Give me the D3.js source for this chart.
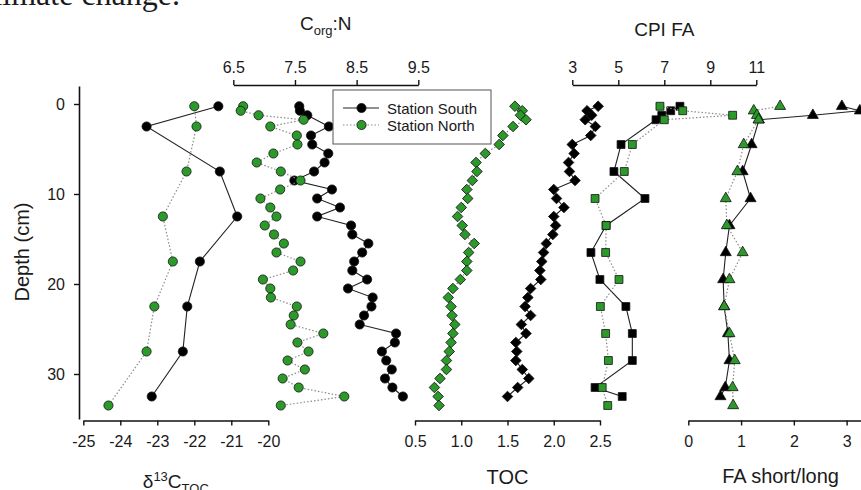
<!DOCTYPE html>
<html>
<head>
  <!-- Import D3.js -->
  <script type="text/javascript" src="https://d3js.org/d3.v7.min.js"></script>
</head>
<body>
<div id="my_dataviz"></div>
<style type="text/css">
  html, body {
    margin: 0px;
    background: #fff;
  }
  svg text {
    font-family: "Liberation Sans", Arial, sans-serif;
    fill: #1a1a1a;
  }
</style>

<script>
"use strict";

// delta 13C TOC
const D13C_DEPTH_S = [0.25, 2.5, 7.5, 12.5, 17.5, 22.5, 27.5, 32.5];
const D13C_S = [-21.35, -23.29, -21.31, -20.84, -21.85, -22.19, -22.31, -23.15];
const D13C_DEPTH_N = [0.25, 2.5, 7.5, 12.5, 17.5, 22.5, 27.5, 33.5];
const D13C_N = [-22.0, -21.94, -22.21, -22.85, -22.58, -23.08, -23.29, -24.32];

// Corg:N
const CN_DEPTH_S = [0.25, 0.75, 1.25, 2.5, 3.5, 4.5, 5.5, 6.5, 7.5, 8.5, 9.5, 10.5, 11.5, 12.5, 13.5, 14.5, 15.5,
  16.5, 17.5, 18.5, 19.5, 20.5, 21.5, 22.5, 23.5, 24.5, 25.5, 26.5, 27.5, 28.5, 29.5, 30.5, 31.5, 32.5];
const CN_S = [7.57, 7.58, 7.70, 8.05, 7.76, 7.78, 8.04, 7.98, 7.81, 7.49, 8.10, 7.86, 8.23, 7.86, 8.41, 8.43, 8.69,
  8.59, 8.46, 8.43, 8.67, 8.36, 8.76, 8.74, 8.62, 8.55, 9.14, 9.12, 8.91, 8.98, 9.07, 8.96, 9.08, 9.25];
const CN_DEPTH_N = [0.25, 0.75, 1.25, 1.75, 2.5, 3.5, 4.5, 5.5, 6.5, 7.5, 8.5, 9.5, 10.5, 11.5, 12.5, 13.5, 14.5, 15.5,
  16.5, 17.5, 18.5, 19.5, 20.5, 21.5, 22.5, 23.5, 24.5, 25.5, 26.5, 27.5, 28.5, 29.5, 30.5, 31.5, 32.5, 33.5];
const CN_N = [6.66, 6.62, 6.91, 7.64, 7.10, 7.53, 7.54, 7.15, 6.88, 7.27, 7.59, 7.26, 6.94, 7.10, 7.20, 7.01, 7.16, 7.32,
  7.20, 7.59, 7.47, 6.98, 7.10, 7.11, 7.53, 7.48, 7.43, 7.96, 7.54, 7.72, 7.38, 7.66, 7.30, 7.56, 8.30, 7.27];

// TOC
const TOC_DEPTH_S = [0.25, 0.75, 1.25, 1.75, 2.5, 3.5, 4.5, 5.5, 6.5, 7.5, 8.5, 9.5, 10.5, 11.5, 12.5, 13.5, 14.5, 15.5,
  16.5, 17.5, 18.5, 19.5, 20.5, 21.5, 22.5, 23.5, 24.5, 25.5, 26.5, 27.5, 28.5, 29.5, 30.5, 31.5, 32.5];
const TOC_S = [2.48, 2.36, 2.41, 2.34, 2.45, 2.40, 2.20, 2.22, 2.16, 2.17, 2.23, 2.00, 2.03, 2.11, 2.00, 2.02, 1.99, 1.92,
  1.89, 1.87, 1.85, 1.86, 1.75, 1.72, 1.69, 1.75, 1.65, 1.70, 1.59, 1.60, 1.59, 1.66, 1.73, 1.61, 1.50];
const TOC_DEPTH_N = CN_DEPTH_N;
const TOC_N = [1.58, 1.66, 1.64, 1.70, 1.56, 1.45, 1.41, 1.26, 1.16, 1.17, 1.12, 1.06, 1.07, 1.00, 0.96, 1.01, 1.04, 1.14,
  1.08, 1.06, 1.06, 0.99, 0.91, 0.86, 0.89, 0.90, 0.93, 0.91, 0.89, 0.87, 0.84, 0.84, 0.77, 0.71, 0.75, 0.76];

// CPI FA and FA short/long
const FA_DEPTH_S = [0.25, 0.75, 1.25, 1.75, 4.5, 7.5, 10.5, 13.5, 16.5, 19.5, 22.5, 25.5, 28.5, 31.5, 32.5];
const FA_DEPTH_N = [0.25, 0.75, 1.25, 1.75, 4.5, 7.5, 10.5, 13.5, 16.5, 19.5, 22.5, 25.5, 28.5, 31.5, 33.5];
const CPI_S = [7.68, 7.28, 6.89, 6.64, 5.12, 4.81, 6.16, 4.47, 3.81, 4.20, 5.33, 5.61, 5.61, 3.99, 5.17];
const CPI_N = [6.81, 7.80, 9.97, 7.00, 5.61, 5.26, 3.99, 4.47, 4.45, 5.03, 4.22, 4.45, 4.57, 4.30, 4.54];
const SL_S = [2.91, 3.25, 2.36, 1.34, 1.20, 1.03, 1.18, 0.78, 0.71, 0.66, 0.68, 0.75, 0.78, 0.70, 0.61];
const SL_N = [1.74, 1.24, 1.30, 1.33, 1.05, 0.93, 0.71, 0.73, 1.03, 0.78, 0.68, 0.78, 0.88, 0.84, 0.85];

// tick labels
const DEPTH_TICKS = [0, 10, 20, 30];
const D13C_TICKS = [-25, -24, -23, -22, -21, -20];
const CN_TICKS = [6.5, 7.5, 8.5, 9.5];
const TOC_TICKS = [0.5, 1.0, 1.5, 2.0, 2.5];
const CPI_TICKS = [3, 5, 7, 9, 11];
const SL_TICKS = [0, 1, 2, 3];
const SERIES_NAMES = ["Station South", "Station North"];

const WIDTH = 861, HEIGHT = 490;
const GREEN = "#2b9a2b";
const TOP_AXIS_Y = 85, BOTTOM_AXIS_Y = 420.5;

const svg = d3.select("#my_dataviz").append("svg")
  .attr("width", WIDTH)
  .attr("height", HEIGHT);

// stray line of the paper text above the figure
svg.append("text")
  .attr("x", 180).attr("y", 5)
  .attr("text-anchor", "end")
  .style("font-family", "'Liberation Serif', 'Times New Roman', serif")
  .style("font-size", "32px")
  .text("climate change.");

const y = d3.scaleLinear().domain([-2, 35]).range([86, 419]);

const xD13C = d3.scaleLinear().domain([-25, -20]).range([83.3, 268.3]);
const xCN = d3.scaleLinear().domain([6.5, 9.5]).range([233.3, 418.3]);
const xTOC = d3.scaleLinear().domain([0.5, 2.5]).range([415, 600]);
const xCPI = d3.scaleLinear().domain([3, 11]).range([572.3, 756.3]);
const xSL = d3.scaleLinear().domain([0, 3.5]).range([688.3, 873]);

const plain = d => String(d);   // hyphen minus, no trailing zeros

function styleAxis(g) {
  g.selectAll(".domain").attr("stroke", "#111").attr("stroke-width", 1.6);
  g.selectAll(".tick line").attr("stroke", "#111").attr("stroke-width", 1.4);
  g.selectAll(".tick text").style("font-size", "16px").attr("fill", "#1a1a1a");
}

// axes
svg.append("g").attr("transform", "translate(79,0)")
  .call(d3.axisLeft(y).tickValues(DEPTH_TICKS).tickFormat(plain).tickSize(5).tickPadding(9).tickSizeOuter(0))
  .call(styleAxis);

svg.append("g").attr("transform", `translate(0,${BOTTOM_AXIS_Y})`)
  .call(d3.axisBottom(xD13C).tickValues(D13C_TICKS).tickFormat(plain).tickSize(5).tickPadding(10).tickSizeOuter(0))
  .call(styleAxis);

svg.append("g").attr("transform", `translate(0,${BOTTOM_AXIS_Y})`)
  .call(d3.axisBottom(xTOC).tickValues(TOC_TICKS).tickFormat(d3.format(".1f")).tickSize(5).tickPadding(10).tickSizeOuter(0))
  .call(styleAxis);

svg.append("g").attr("transform", `translate(0,${BOTTOM_AXIS_Y})`)
  .call(d3.axisBottom(xSL).tickValues(SL_TICKS).tickFormat(plain).tickSize(5).tickPadding(10).tickSizeOuter(0))
  .call(styleAxis);

svg.append("g").attr("transform", `translate(0,${TOP_AXIS_Y})`)
  .call(d3.axisTop(xCN).tickValues(CN_TICKS).tickFormat(d3.format(".1f")).tickSize(5).tickPadding(7).tickSizeOuter(0))
  .call(styleAxis);

svg.append("g").attr("transform", `translate(0,${TOP_AXIS_Y})`)
  .call(d3.axisTop(xCPI).tickValues(CPI_TICKS).tickFormat(plain).tickSize(5).tickPadding(7).tickSizeOuter(0))
  .call(styleAxis);

// axis titles
const title = (x, yy, size) => svg.append("text")
  .attr("x", x).attr("y", yy)
  .attr("text-anchor", "middle")
  .style("font-size", size + "px");

const tCN = title(325.8, 30, 19);
tCN.append("tspan").text("C");
tCN.append("tspan").attr("dy", 5).style("font-size", "13px").text("org");
tCN.append("tspan").attr("dy", -5).text(":N");

title(664.3, 36, 19).text("CPI FA");

const tD = title(175.8, 488, 19);
tD.append("tspan").text("δ");
tD.append("tspan").attr("dy", -7).style("font-size", "13px").text("13");
tD.append("tspan").attr("dy", 7).text("C");
tD.append("tspan").attr("dy", 5).style("font-size", "13px").text("TOC");

title(507.5, 484, 20).text("TOC");
title(780.6, 483, 20).text("FA short/long");

svg.append("text")
  .attr("transform", "translate(29,252) rotate(-90)")
  .attr("text-anchor", "middle")
  .style("font-size", "20px")
  .text("Depth (cm)");

// markers
const circle = d3.symbol(d3.symbolCircle, 66);
const square = d3.symbol(d3.symbolSquare, 62);
const diamond = d3.symbol(d3.symbolSquare, 56);
const triangle = d3.symbol(d3.symbolTriangle, 52);

function drawSeries(xs, depths, values, sym, rot, fill, solid) {
  const pts = depths.map((d, i) => ({ depth: d, v: values[i] }));
  const line = d3.line().x(d => xs(d.v)).y(d => y(d.depth));
  svg.append("path")
    .datum(pts)
    .attr("d", line)
    .attr("fill", "none")
    .attr("stroke", solid ? "#222" : "#8a8a8a")
    .attr("stroke-width", solid ? 1.1 : 1.2)
    .attr("stroke-dasharray", solid ? null : "1.5,2");
  svg.append("g")
    .selectAll("path")
    .data(pts)
    .join("path")
    .attr("d", sym)
    .attr("transform", d => `translate(${xs(d.v)},${y(d.depth)}) rotate(${rot})`)
    .attr("fill", fill)
    .attr("stroke", "#111")
    .attr("stroke-width", 0.8);
}

// South first, North on top
drawSeries(xD13C, D13C_DEPTH_S, D13C_S, circle, 0, "#000", true);
drawSeries(xD13C, D13C_DEPTH_N, D13C_N, circle, 0, GREEN, false);
drawSeries(xCN, CN_DEPTH_S, CN_S, circle, 0, "#000", true);
drawSeries(xCN, CN_DEPTH_N, CN_N, circle, 0, GREEN, false);
drawSeries(xTOC, TOC_DEPTH_S, TOC_S, diamond, 45, "#000", true);
drawSeries(xTOC, TOC_DEPTH_N, TOC_N, diamond, 45, GREEN, false);
drawSeries(xCPI, FA_DEPTH_S, CPI_S, square, 0, "#000", true);
drawSeries(xCPI, FA_DEPTH_N, CPI_N, square, 0, GREEN, false);
drawSeries(xSL, FA_DEPTH_S, SL_S, triangle, 0, "#000", true);
drawSeries(xSL, FA_DEPTH_N, SL_N, triangle, 0, GREEN, false);

// legend
const legend = svg.append("g");
legend.append("rect")
  .attr("x", 333).attr("y", 90)
  .attr("width", 158).attr("height", 54)
  .attr("fill", "#fff")
  .attr("stroke", "#555")
  .attr("stroke-width", 1);

SERIES_NAMES.forEach((name, i) => {
  const ly = 108 + i * 17;
  legend.append("line")
    .attr("x1", 343).attr("x2", 379)
    .attr("y1", ly).attr("y2", ly)
    .attr("stroke", i === 0 ? "#222" : "#8a8a8a")
    .attr("stroke-width", 1.2)
    .attr("stroke-dasharray", i === 0 ? null : "1.5,2");
  legend.append("path")
    .attr("d", circle)
    .attr("transform", `translate(361.5,${ly})`)
    .attr("fill", i === 0 ? "#000" : GREEN)
    .attr("stroke", "#111")
    .attr("stroke-width", 0.8);
  legend.append("text")
    .attr("x", 387).attr("y", ly + 5.5)
    .style("font-size", "15px")
    .text(name);
});
</script>
</body>
</html>
